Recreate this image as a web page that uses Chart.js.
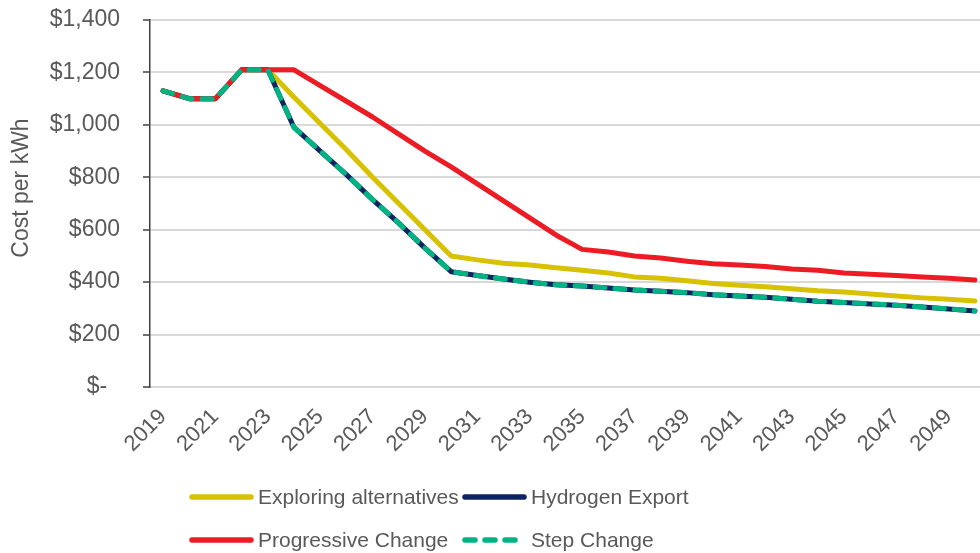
<!DOCTYPE html>
<html>
<head>
<meta charset="utf-8">
<title>Cost per kWh</title>
<script src="https://cdn.jsdelivr.net/npm/chart.js@4/dist/chart.umd.min.js"></script>
<style>
  html, body { margin: 0; padding: 0; background: #fff; overflow: hidden; }
  #wrap { position: relative; width: 980px; height: 553px; overflow: hidden; }
  #box { position: absolute; left: 0; top: 0; width: 990px; height: 553px; }
  .legend { position: absolute; left: 0; top: 0; font-family: "Liberation Sans", Arial, sans-serif;
            font-size: 21px; color: #595959; }
  .item { position: absolute; height: 30px; display: flex; align-items: center; white-space: nowrap; }
  .item svg { margin-right: 3px; }
</style>
</head>
<body>
<div id="wrap">
  <div id="box"><canvas id="costChart"></canvas></div>
  <div class="legend" id="legend"></div>
</div>
<script>
// ─── data ───
const years = ['2019', '2020', '2021', '2022', '2023', '2024', '2025', '2026', '2027', '2028',
  '2029', '2030', '2031', '2032', '2033', '2034', '2035', '2036', '2037', '2038', '2039',
  '2040', '2041', '2042', '2043', '2044', '2045', '2046', '2047', '2048', '2049', '2050'];

const exploringAlternatives = [1130, 1100, 1100, 1210, 1210, 1105, 1005, 905, 800, 700,
  600, 500, 485, 472, 465, 455, 445, 435, 420, 415, 405,
  395, 388, 382, 375, 367, 362, 355, 347, 340, 335, 328];

const hydrogenExport = [1130, 1100, 1100, 1210, 1210, 990, 900, 810, 715, 625,
  530, 440, 425, 412, 400, 390, 385, 378, 370, 365, 360,
  352, 347, 342, 335, 327, 322, 317, 312, 305, 298, 290];

const progressiveChange = [1130, 1100, 1100, 1210, 1210, 1210, 1150, 1090, 1030, 965,
  900, 840, 775, 710, 645, 580, 525, 515, 500, 492, 480,
  470, 465, 460, 450, 445, 435, 430, 425, 420, 415, 408];

const stepChange = [1130, 1100, 1100, 1210, 1210, 990, 900, 810, 715, 625,
  530, 440, 425, 412, 400, 390, 385, 378, 370, 365, 360,
  352, 347, 342, 335, 327, 322, 317, 312, 305, 298, 290];

const xTickLabels = ['2019', '2021', '2023', '2025', '2027', '2029', '2031', '2033',
  '2035', '2037', '2039', '2041', '2043', '2045', '2047', '2049'];
const yTickLabels = ['$-  ', '$200', '$400', '$600', '$800', '$1,000', '$1,200', '$1,400'];

const FONT = '"Liberation Sans", Arial, sans-serif';
const TEXT = '#595959';
const colors = { yellow: '#D8C100', navy: '#0C2461', red: '#ED1C24', green: '#00B383' };

// legend entries, in the two-column layout used under the chart
const legendItems = [
  { label: 'Exploring alternatives', color: colors.yellow, dash: false, x: 187, y: 482 },
  { label: 'Hydrogen Export', color: colors.navy, dash: false, x: 460, y: 482 },
  { label: 'Progressive Change', color: colors.red, dash: false, x: 187, y: 525 },
  { label: 'Step Change', color: colors.green, dash: true, x: 460, y: 525 },
];

const legend = document.getElementById('legend');
legendItems.forEach((it) => {
  const div = document.createElement('div');
  div.className = 'item';
  div.style.left = it.x + 'px';
  div.style.top = it.y + 'px';
  const dash = it.dash ? 'stroke-dasharray="10 10"' : '';
  div.innerHTML =
    `<svg width="68" height="10"><line x1="5" y1="5" x2="64" y2="5" stroke="${it.color}" ` +
    `stroke-width="5.5" stroke-linecap="round" ${dash}/></svg><span>${it.label}</span>`;
  legend.appendChild(div);
});

// rotated axis title, drawn by hand so it can sit a bit above centre
const yTitle = {
  id: 'yTitle',
  afterDraw(chart) {
    const { ctx } = chart;
    ctx.save();
    ctx.translate(22, 188);
    ctx.rotate(-Math.PI / 2);
    ctx.font = `23px ${FONT}`;
    ctx.fillStyle = TEXT;
    ctx.textAlign = 'center';
    ctx.textBaseline = 'middle';
    ctx.fillText('Cost per kWh', 0, 0);
    ctx.restore();
  },
};

function line(label, data, color, order, dashed) {
  return {
    label,
    data,
    borderColor: color,
    backgroundColor: color,
    borderWidth: 5,
    borderCapStyle: 'round',
    borderJoinStyle: 'round',
    borderDash: dashed ? [10, 10] : [],
    pointRadius: 0,
    tension: 0,
    order,
  };
}

const canvas = document.getElementById('costChart');
new Chart(canvas.getContext('2d'), {
  type: 'line',
  data: {
    labels: years,
    datasets: [
      line('Exploring alternatives', exploringAlternatives, colors.yellow, 4),
      line('Hydrogen Export', hydrogenExport, colors.navy, 3),
      line('Progressive Change', progressiveChange, colors.red, 2),
      line('Step Change', stepChange, colors.green, 1, true),
    ],
  },
  options: {
    responsive: true,
    maintainAspectRatio: false,
    animation: false,
    layout: { padding: { top: 20, right: 2, left: 0, bottom: 0 } },
    plugins: { legend: { display: false }, tooltip: { enabled: false } },
    scales: {
      x: {
        offset: true,
        grid: { display: false },
        border: { display: true, color: '#D9D9D9', width: 2 },
        ticks: {
          autoSkip: false,
          minRotation: 45,
          maxRotation: 45,
          padding: 9,
          color: TEXT,
          font: { family: FONT, size: 22 },
          callback: (v, i) => (xTickLabels.includes(years[i]) ? years[i] : ''),
        },
        afterFit: (scale) => {
          scale.height = 166;
          scale.paddingLeft = 0;
          scale.paddingRight = 0;
        },
      },
      y: {
        min: 0,
        max: 1400,
        grid: { color: '#D9D9D9', lineWidth: 2, tickColor: '#404040', tickLength: 7, tickWidth: 1.5 },
        border: { display: true, color: '#404040', width: 1.5 },
        ticks: {
          stepSize: 200,
          padding: 23,
          color: TEXT,
          font: { family: FONT, size: 23 },
          callback: (v) => yTickLabels[Math.round(v / 200)],
        },
        afterFit: (scale) => {
          scale.width = 150;
          // the wide label gap would otherwise push the plot down
          scale.paddingTop = 0;
          scale.paddingBottom = 0;
        },
      },
    },
  },
  plugins: [yTitle],
});
</script>
</body>
</html>
